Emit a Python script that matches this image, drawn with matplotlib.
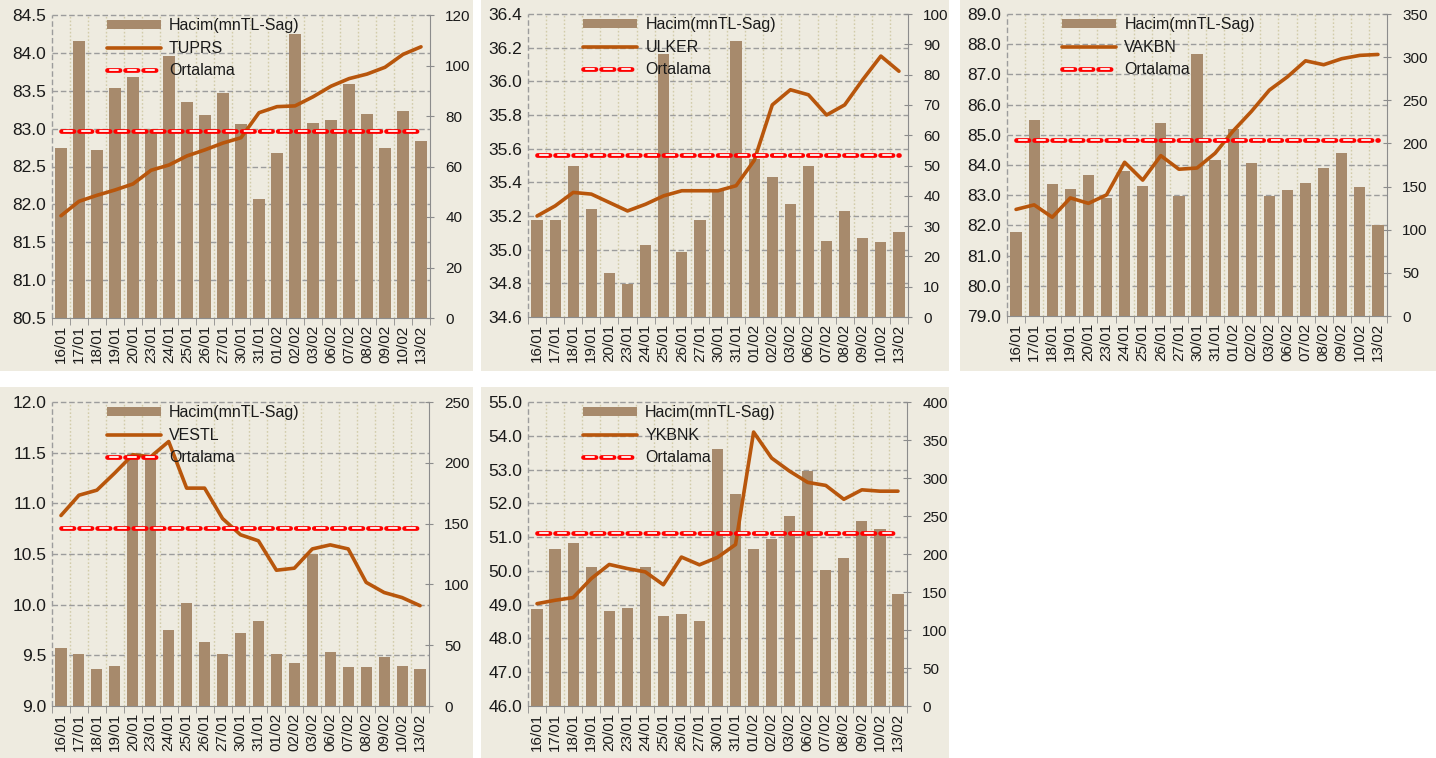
import numpy as np
import matplotlib.pyplot as plt
from matplotlib.patches import Rectangle
from matplotlib.legend_handler import HandlerTuple

plt.rcParams['font.family'] = ['Liberation Sans', 'DejaVu Sans']
plt.rcParams['lines.scale_dashes'] = False

# tarihler
dates = ['16/01', '17/01', '18/01', '19/01', '20/01', '23/01', '24/01', '25/01',
         '26/01', '27/01', '30/01', '31/01', '01/02', '02/02', '03/02', '06/02',
         '07/02', '08/02', '09/02', '10/02', '13/02']

# TUPRS
price_tuprs = [81.85, 82.04, 82.12, 82.19, 82.27, 82.45, 82.52, 82.64, 82.72, 82.81, 82.88,
               83.21, 83.29, 83.30, 83.42, 83.56, 83.66, 83.72, 83.81, 83.98, 84.08]
vol_tuprs = [67.2, 109.7, 66.5, 90.9, 95.5, 75.0, 103.7, 85.5, 80.2, 89.1, 76.7,
             47.0, 65.3, 112.6, 77.2, 78.5, 92.6, 80.8, 67.2, 81.9, 70.1]
avg_tuprs = 82.97

# ULKER
price_ulker = [35.20, 35.26, 35.34, 35.33, 35.28, 35.23, 35.27, 35.32, 35.35, 35.35, 35.35,
               35.38, 35.53, 35.86, 35.95, 35.92, 35.80, 35.86, 36.01, 36.15, 36.06]
vol_ulker = [31.9, 31.9, 49.8, 35.5, 14.6, 10.8, 23.6, 86.8, 21.6, 31.9, 42.3,
             91.2, 52.1, 46.3, 37.4, 49.8, 25.1, 34.9, 26.1, 24.6, 28.0]
avg_ulker = 35.56

# VAKBN
price_vakbn = [82.53, 82.68, 82.27, 82.91, 82.73, 83.01, 84.09, 83.50, 84.31, 83.86, 83.90,
               84.39, 85.13, 85.77, 86.48, 86.92, 87.45, 87.32, 87.52, 87.63, 87.66]
vol_vakbn = [97.3, 227.1, 153.0, 147.5, 163.4, 137.1, 168.4, 151.0, 223.6, 139.4, 303.6,
             180.8, 216.7, 176.9, 139.4, 146.0, 154.5, 171.9, 188.9, 149.5, 105.8]
avg_vakbn = 84.83

# VESTL
price_vestl = [10.88, 11.08, 11.13, 11.30, 11.48, 11.46, 11.61, 11.15, 11.15, 10.85, 10.69,
               10.63, 10.34, 10.36, 10.55, 10.59, 10.55, 10.22, 10.12, 10.07, 9.99]
vol_vestl = [48.0, 43.0, 30.7, 33.2, 207.0, 205.6, 62.8, 85.0, 52.9, 43.0, 60.3,
             70.2, 43.0, 35.6, 125.3, 44.1, 31.8, 31.8, 40.6, 33.2, 30.7]
avg_vestl = 10.76

# YKBNK
price_ykbnk = [49.03, 49.13, 49.21, 49.77, 50.19, 50.07, 49.97, 49.59, 50.41, 50.18, 50.40,
               50.78, 54.11, 53.34, 52.95, 52.62, 52.53, 52.12, 52.40, 52.36, 52.36]
vol_ykbnk = [127.2, 206.1, 214.0, 182.9, 125.4, 129.4, 182.9, 118.0, 121.5, 111.8, 338.2,
             278.9, 206.1, 220.2, 249.6, 308.8, 178.9, 194.3, 243.9, 233.3, 147.4]
avg_ykbnk = 51.13

BG = '#EEEBE0'
BAR = '#A78A6C'
LINE = '#B8560C'
HGRID = '#9C9C9C'
VGRID = '#D2CCAA'
SPINE = '#8C8C8C'
TXT = '#1A1A1A'

W, H = 1436, 758
fig = plt.figure(figsize=(W / 100, H / 100), dpi=100)
fig.patch.set_facecolor('white')


def px(l, t, r, b):
    return [l / W, 1 - b / H, (r - l) / W, (b - t) / H]


def panel(axbox, bgbox, name, price, vol, avg, plim, pstep, vlim, vstep):
    l, t, r, b = bgbox
    fig.add_artist(Rectangle((l / W, 1 - b / H), (r - l) / W, (b - t) / H,
                             transform=fig.transFigure, facecolor=BG,
                             edgecolor='none', zorder=0))
    ax = fig.add_axes(px(*axbox))
    ax.set_facecolor('none')
    x = np.arange(len(dates))

    bars = ax.bar(x, vol, width=0.62, color=BAR, zorder=2, label='Hacim(mnTL-Sag)')
    ax.set_xlim(-0.5, len(dates) - 0.5)
    ax.set_ylim(*vlim)

    # dikey noktali grid
    for bnd in np.arange(0.5, len(dates) - 1, 1):
        ax.axvline(bnd, color=VGRID, lw=1, ls=(0, (1.2, 1.5)), zorder=0.5)
    # yatay grid (sol eksen)
    pticks = np.arange(plim[0], plim[1] + pstep / 2, pstep)
    for tk in pticks[1:]:
        f = (tk - plim[0]) / (plim[1] - plim[0])
        ax.plot([0, 1], [f, f], transform=ax.transAxes, color=HGRID, lw=1,
                ls=(0, (4, 2)), zorder=0.6, clip_on=False)
    ax.plot([0, 0], [0, 1], transform=ax.transAxes, color=HGRID, lw=1,
            ls=(0, (4, 2)), zorder=0.6, clip_on=False)

    for s in ['left', 'top']:
        ax.spines[s].set_visible(False)
    for s in ['right', 'bottom']:
        ax.spines[s].set_color(SPINE)

    ax.set_xticks(x)
    ax.set_xticklabels(dates, rotation=90, fontsize=11, color=TXT)
    ax.set_xticks(np.arange(-0.5, len(dates), 1), minor=True)
    ax.tick_params(axis='x', which='major', length=0, pad=5)
    ax.tick_params(axis='x', which='minor', length=5, color=SPINE)

    ax2 = ax.twinx()
    ln, = ax2.plot(x, price, color=LINE, lw=2.6, solid_joinstyle='round',
                   solid_capstyle='round', zorder=3, label=name)
    avgv = [avg] * len(x)
    a1, = ax2.plot(x, avgv, color='#FF0000', lw=3.4, ls=(0, (9, 4)),
                   dash_capstyle='round', zorder=4)
    a2, = ax2.plot(x, avgv, color='#FFECEC', lw=1.4, ls=(11.4, (6.8, 6.2)),
                   zorder=5)
    ax2.set_ylim(*plim)
    ax2.set_yticks(pticks)
    ax2.set_yticklabels(['%.1f' % v for v in pticks])
    for s in ax2.spines.values():
        s.set_visible(False)
    ax2.yaxis.tick_left()
    ax2.tick_params(axis='y', length=0, pad=4, labelsize=12.5, labelcolor=TXT)

    ax.yaxis.tick_right()
    ax.set_yticks(np.arange(vlim[0], vlim[1] + vstep / 2, vstep))
    ax.tick_params(axis='y', length=6, direction='inout', color=SPINE, pad=8,
                   labelsize=11, labelcolor=TXT)

    ax2.legend([bars, ln, (a1, a2)], ['Hacim(mnTL-Sag)', name, 'Ortalama'],
               handler_map={tuple: HandlerTuple(ndivide=1, pad=0)},
               loc='upper left', bbox_to_anchor=(0.145, 0.99), frameon=False,
               borderpad=0, borderaxespad=0, handlelength=3.4, handleheight=0.5,
               handletextpad=0.5, labelspacing=0.48, fontsize=11.5,
               labelcolor=TXT)


panel((52, 15, 430, 318), (0, 0, 473, 371), 'TUPRS', price_tuprs, vol_tuprs,
      avg_tuprs, (80.5, 84.5), 0.5, (0, 120), 20)
panel((528, 14, 908, 317), (481, 0, 949, 371), 'ULKER', price_ulker, vol_ulker,
      avg_ulker, (34.6, 36.4), 0.2, (0, 100), 10)
panel((1007, 14, 1387, 316), (960, 0, 1436, 371), 'VAKBN', price_vakbn, vol_vakbn,
      avg_vakbn, (79.0, 89.0), 1.0, (0, 350), 50)
panel((52, 402, 429, 706), (0, 387, 473, 758), 'VESTL', price_vestl, vol_vestl,
      avg_vestl, (9.0, 12.0), 0.5, (0, 250), 50)
panel((528, 402, 907, 706), (481, 387, 949, 758), 'YKBNK', price_ykbnk, vol_ykbnk,
      avg_ykbnk, (46.0, 55.0), 1.0, (0, 400), 50)

plt.savefig('out.png', dpi=100)
